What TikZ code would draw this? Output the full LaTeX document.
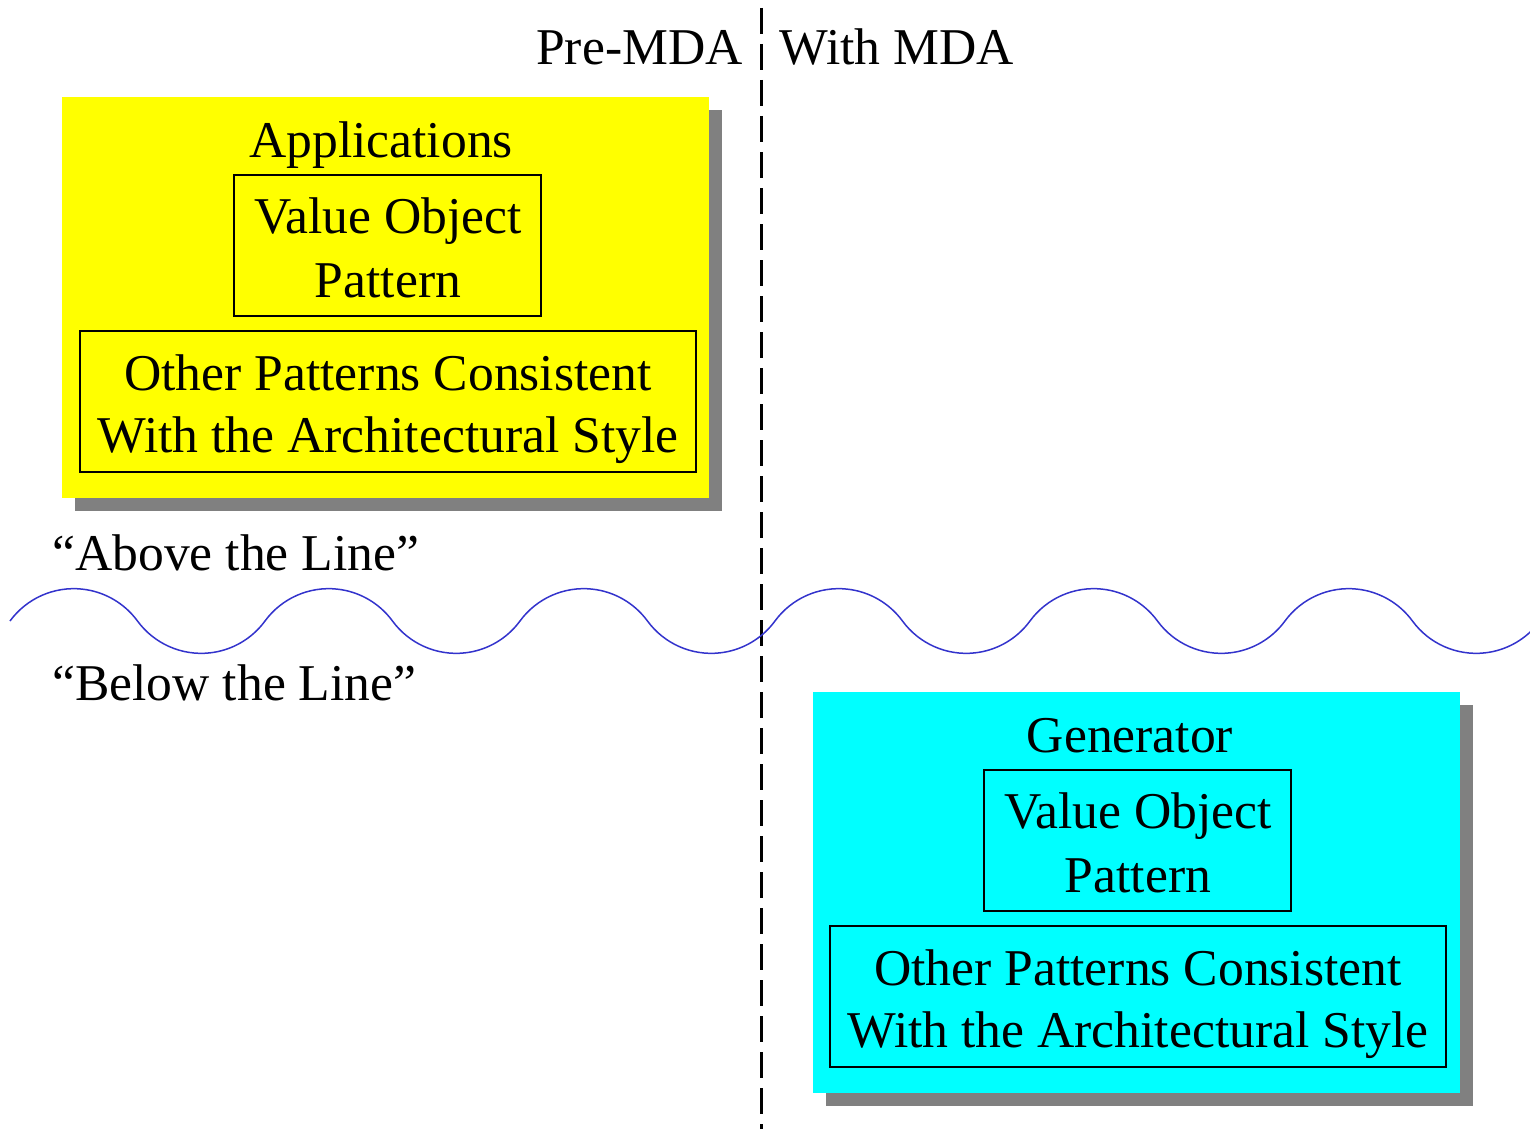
\documentclass[tikz,border=0pt]{standalone}
\usepackage{fontspec}
\setmainfont{Liberation Serif}
\usetikzlibrary{shadows}
\definecolor{wavecol}{RGB}{51,51,204}
\definecolor{shadowgray}{RGB}{128,128,128}
\definecolor{panelyellow}{RGB}{255,255,0}
\definecolor{panelcyan}{RGB}{0,255,255}
\begin{document}
\begin{tikzpicture}[x=0.5pt,y=0.5pt,
  txt/.style={font=\fontsize{25.8}{31}\selectfont, inner sep=0pt},
  line/.style={txt, anchor=base},
  panel/.style={inner sep=0pt, minimum width=323.5pt, minimum height=200.5pt,
    drop shadow={shadow xshift=6.5pt, shadow yshift=-6.5pt, fill=shadowgray, opacity=1}},
  patbox/.style={draw, line width=0.75pt, inner sep=0pt, minimum height=70.5pt},
  smallbox/.style={patbox, minimum width=153.5pt},
  widebox/.style={patbox, minimum width=308pt},
  divider/.style={line width=1.5pt, dash pattern=on 13pt off 5pt},
  wavy/.style={draw=wavecol, line width=0.75pt}]
\useasboundingbox (0,0) rectangle (1530,-1129);
\clip (0,0) rectangle (1530,-1129);

% column divider
\coordinate (divtop) at (761,-8);
\coordinate (divbot) at (761,-1129);
\draw[divider] (divtop) -- (divbot);

% column headings
\node[txt, anchor=base east] (pre) at (743,-65) {Pre-MDA};
\node[txt, anchor=base west] (with) at (779,-65) {With MDA};

% applications panel
\node[panel, fill=panelyellow] (apps) at (385.5,-297.5) {};
\node[line] (appsttl) at (381,-157) {Applications};
\node[smallbox] (appsvo) at (387.5,-245.5) {};
\node[line] (appsvo1) at (388,-233) {Value Object};
\node[line] (appsvo2) at (388,-297) {Pattern};
\node[widebox] (appsother) at (388,-401.5) {};
\node[line] (appsother1) at (388,-390) {Other Patterns Consistent};
\node[line] (appsother2) at (388,-452) {With the Architectural Style};

% the line
\node[txt, anchor=base west] (above) at (52,-570) {“Above the Line”};
\node[txt, anchor=base west] (below) at (52,-700) {“Below the Line”};
\draw[wavy] (10,-621)
  \foreach \i in {1,...,6} { arc[start angle=143.8, end angle=36.2, radius=39.5pt]
                             arc[start angle=216.2, end angle=323.8, radius=39.5pt] };

% generator panel
\node[panel, fill=panelcyan] (gen) at (1136.5,-892.5) {};
\node[line] (genttl) at (1130,-752) {Generator};
\node[smallbox] (genvo) at (1137.5,-840.5) {};
\node[line] (genvo1) at (1138,-828) {Value Object};
\node[line] (genvo2) at (1138,-892) {Pattern};
\node[widebox] (genother) at (1138,-996.5) {};
\node[line] (genother1) at (1138,-985) {Other Patterns Consistent};
\node[line] (genother2) at (1138,-1047) {With the Architectural Style};
\end{tikzpicture}
\end{document}
